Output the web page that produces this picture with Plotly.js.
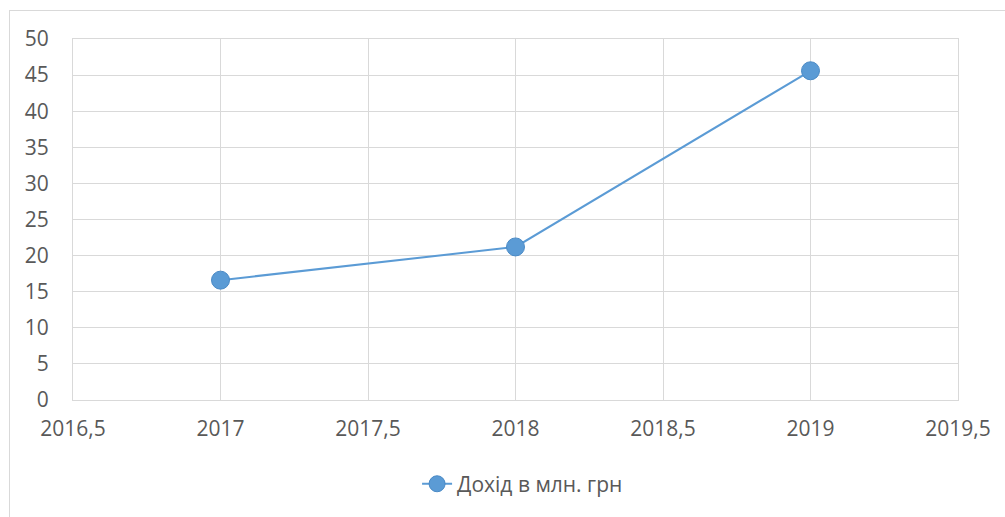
<!DOCTYPE html>
<html>
<head>
<meta charset="utf-8">
<script src="https://cdn.plot.ly/plotly-3.0.1.min.js"></script>
<style>
html,body{margin:0;padding:0;background:#fff;overflow:hidden;}
#frame{position:absolute;left:9px;top:10px;width:1010px;height:520px;border:1px solid #d9d9d9;box-sizing:border-box;}
#chart{position:absolute;left:0;top:0;width:1005px;height:517px;}
</style>
</head>
<body>
<div id="frame"></div>
<div id="chart"></div>
<script>
const years = [2017, 2018, 2019];
const income = [16.6, 21.2, 45.6];
const seriesName = 'Дохід в млн. грн';

const trace = {
  x: years,
  y: income,
  name: seriesName,
  type: 'scatter',
  mode: 'lines+markers',
  line: {color: '#5b9bd5', width: 2},
  marker: {color: '#5b9bd5', size: 18, line: {color: '#4a8ac6', width: 1}},
  showlegend: true
};

const font = {family: '"Open Sans", "Liberation Sans", sans-serif', size: 21, color: '#595959'};

const layout = {
  width: 1005,
  height: 517,
  margin: {l: 73, r: 47, t: 39, b: 117},
  paper_bgcolor: 'rgba(0,0,0,0)',
  plot_bgcolor: '#ffffff',
  separators: ', ',
  font: font,
  xaxis: {
    range: [2016.5, 2019.5],
    dtick: 0.5,
    tick0: 2016.5,
    tickformat: '.1~f',
    showgrid: true,
    gridcolor: '#d9d9d9',
    gridwidth: 1,
    showline: true,
    mirror: true,
    linecolor: '#d9d9d9',
    linewidth: 1,
    zeroline: false,
    ticks: '',
    ticklabelstandoff: 10,
    tickfont: font
  },
  yaxis: {
    range: [0, 50],
    dtick: 5,
    showgrid: true,
    gridcolor: '#d9d9d9',
    gridwidth: 1,
    showline: true,
    mirror: true,
    linecolor: '#d9d9d9',
    linewidth: 1,
    zeroline: false,
    ticks: '',
    ticklabelstandoff: 19,
    tickfont: font
  },
  legend: {
    orientation: 'h',
    x: 0.508,
    xanchor: 'center',
    y: -0.233,
    yanchor: 'middle',
    font: font,
    bgcolor: 'rgba(0,0,0,0)'
  }
};

Plotly.newPlot('chart', [trace], layout, {displayModeBar: false, staticPlot: true});
</script>
</body>
</html>
